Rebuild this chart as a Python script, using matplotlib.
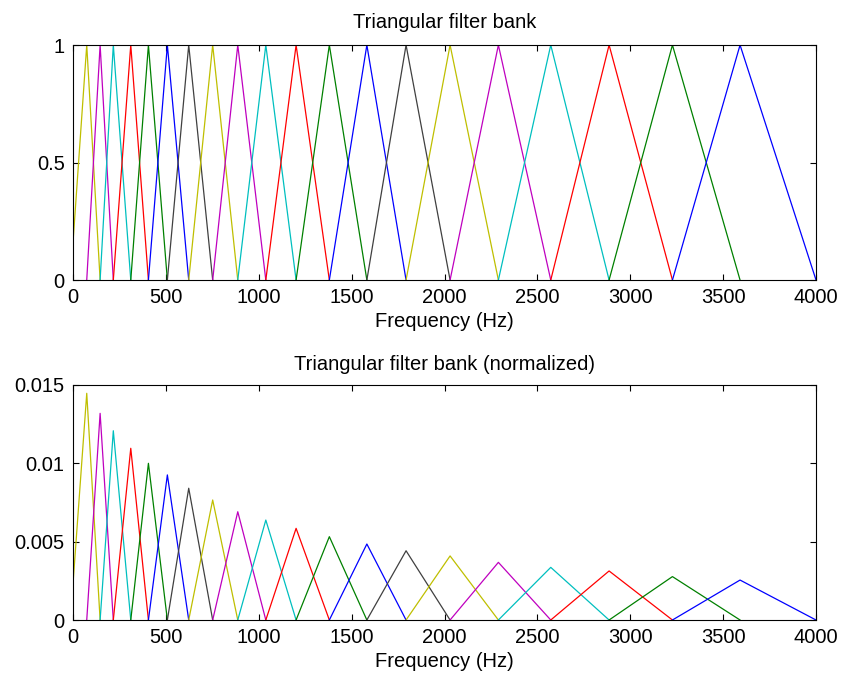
import matplotlib
matplotlib.use("Agg")
import matplotlib.pyplot as plt

plt.rcParams['font.family'] = ['Liberation Sans', 'DejaVu Sans']

# band edges of the 20 triangular filters (Hz): filter i spans edges[i]..edges[i+2], peak at edges[i+1]
edges = [-14, 74, 146, 217, 311, 406, 508, 623, 752, 887, 1038,
         1201, 1380, 1582, 1793, 2030, 2290, 2572, 2886, 3227, 3591, 4000]

# peak heights after normalizing each filter to unit area
norm_peaks = [0.01447, 0.01319, 0.01208, 0.01096, 0.01000, 0.00926, 0.00841,
              0.00766, 0.00691, 0.00638, 0.00585, 0.00532, 0.00485, 0.00442,
              0.00409, 0.00368, 0.00336, 0.00313, 0.00277, 0.00255]

# matlab default line colours, cycled y m c r g b k
cols = [(0.75, 0.75, 0), (0.75, 0, 0.75), (0, 0.75, 0.75), (1, 0, 0),
        (0, 0.5, 0), (0, 0, 1), (0.25, 0.25, 0.25)]

xticks = [0, 500, 1000, 1500, 2000, 2500, 3000, 3500, 4000]

fig = plt.figure(figsize=(8.41, 6.82), dpi=100)
ax1 = fig.add_axes([0.0868, 0.5894, 0.8835, 0.3446])
ax2 = fig.add_axes([0.0868, 0.0909, 0.8835, 0.3446])

n_filt = len(edges) - 2
for i in range(n_filt):
    fx = edges[i:i + 3]
    c = cols[i % len(cols)]
    ax1.plot(fx, [0, 1, 0], color=c, lw=0.9)
    ax2.plot(fx, [0, norm_peaks[i], 0], color=c, lw=0.9)

fs = 14.5
for ax in (ax1, ax2):
    ax.set_xlim(0, 4000)
    ax.set_xticks(xticks)
    ax.set_xticklabels([str(t) for t in xticks])
    ax.set_xlabel('Frequency (Hz)', fontsize=fs, labelpad=3)
    ax.tick_params(direction='in', top=True, right=True, length=4.5,
                   width=0.8, pad=6, labelsize=fs)
    for s in ax.spines.values():
        s.set_linewidth(0.8)

ax1.set_ylim(0, 1)
ax1.set_yticks([0, 0.5, 1])
ax1.set_yticklabels(['0', '0.5', '1'])
ax1.set_title('Triangular filter bank', fontsize=fs, pad=12)

ax2.set_ylim(0, 0.015)
ax2.set_yticks([0, 0.005, 0.01, 0.015])
ax2.set_yticklabels(['0', '0.005', '0.01', '0.015'])
ax2.set_title('Triangular filter bank (normalized)', fontsize=fs, pad=11)

fig.savefig('out.png', dpi=100)
